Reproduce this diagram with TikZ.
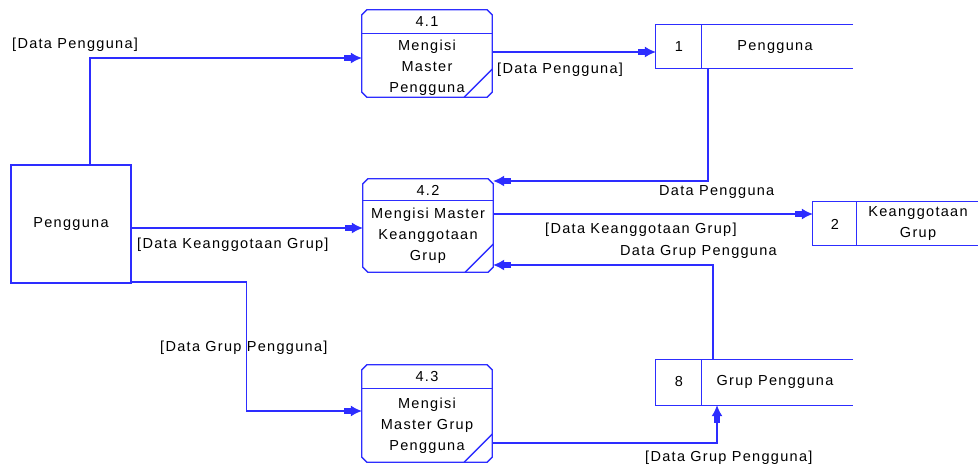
\documentclass[tikz,border=0pt]{standalone}
\usepackage{fontspec}
\setmainfont[LetterSpace=9]{Liberation Sans}
\usetikzlibrary{arrows.meta}
\definecolor{dfdblue}{RGB}{45,45,255}
\begin{document}
\begin{tikzpicture}[x=1pt,y=-1pt,
  every node/.style={font=\fontsize{14.5}{21}\selectfont, inner sep=0pt},
  ln/.style={draw=dfdblue, line width=1.3pt},
  flow/.style={ln, -{Rectangle[length=7pt,width=6pt,line width=0pt] Latex[length=11pt,width=11pt]}},
  lbl/.style={anchor=west}]
\useasboundingbox (0,0) rectangle (978,470);
% external entity
\node[draw=dfdblue, line width=1.3pt, minimum width=120pt, minimum height=118pt] (ent) at (71,224) {Pengguna};
% processes (named placeholders)
\node[minimum width=130pt, minimum height=87pt] (p41) at (427,53.5) {};
\node[minimum width=130pt, minimum height=93pt] (p42) at (428,225.5) {};
\node[minimum width=130pt, minimum height=97pt] (p43) at (427,413.5) {};
\foreach \p/\d in {p41/24,p42/22,p43/24}{
  \draw[ln] ([yshift=-5pt]\p.north west) -- ([xshift=5pt]\p.north west) -- ([xshift=-5pt]\p.north east) -- ([yshift=-5pt]\p.north east) -- ([yshift=5pt]\p.south east) -- ([xshift=-5pt]\p.south east) -- ([xshift=5pt]\p.south west) -- ([yshift=5pt]\p.south west) -- cycle;
  \draw[ln] ([yshift=-\d pt]\p.north west) -- ([yshift=-\d pt]\p.north east);
  \draw[ln] ([xshift=-28pt]\p.south east) -- ([yshift=28pt]\p.south east);
}
\node (p41id) at (427,22) {4.1};
\node[align=center] (p41t) at (427,68) {Mengisi\\Master\\Pengguna};
\node (p42id) at (428,190) {4.2};
\node[align=center] (p42t) at (428,236) {Mengisi Master\\Keanggotaan\\Grup};
\node (p43id) at (427,377) {4.3};
\node[align=center] (p43t) at (427,426) {Mengisi\\Master Grup\\Pengguna};
% data stores
\node[minimum width=197pt, minimum height=43pt] (s1) at (754.5,46.5) {};
\node[minimum width=165pt, minimum height=43pt] (s2) at (895.5,223.5) {};
\node[minimum width=197pt, minimum height=45pt] (s8) at (754.5,382.5) {};
\foreach \s/\d in {s1/46,s2/44,s8/46}{
  \draw[ln] (\s.north east) -- (\s.north west) -- (\s.south west) -- (\s.south east);
  \draw[ln] ([xshift=\d pt]\s.north west) -- ([xshift=\d pt]\s.south west);
}
\node (s1id) at (679,47) {1};
\node (s1t) at (775,47) {Pengguna};
\node (s2id) at (835,224) {2};
\node[align=center] (s2t) at (918,224) {Keanggotaan\\Grup};
\node (s8id) at (679,382) {8};
\node (s8t) at (775,382) {Grup Pengguna};
% flows
\draw[flow] ([xshift=19pt]ent.north) |- ([yshift=-4.5pt]p41.west);
\node[lbl] (l1) at (12,45) {[Data Pengguna]};
\draw[flow] ([yshift=1.5pt]p41.east) -- ([yshift=1.5pt]p41.east -| s1.west);
\node[lbl] (l2) at (497,70) {[Data Pengguna]};
\draw[flow] ([xshift=-46.5pt]s1.south) |- ([yshift=44.5pt]p42.east);
\node[lbl] (l3) at (659,192) {Data Pengguna};
\draw[flow] ([yshift=11.5pt]p42.east) -- ([yshift=11.5pt]p42.east -| s2.west);
\node[lbl] (l4) at (545,230) {[Data Keanggotaan Grup]};
\draw[flow] ([xshift=-41.5pt]s8.north) |- ([yshift=-39.5pt]p42.east);
\node[lbl] (l5) at (620,252) {Data Grup Pengguna};
\draw[flow] ([yshift=-4pt]ent.east) -- ([yshift=-4pt]ent.east -| p42.west);
\node[lbl] (l6) at (137,245) {[Data Keanggotaan Grup]};
\draw[flow] ([yshift=-58pt]ent.east) -- ++(115,0) |- ([yshift=2.5pt]p43.west);
\node[lbl] (l7) at (160,348) {[Data Grup Pengguna]};
\draw[flow] ([yshift=-29.5pt]p43.east) -| ([xshift=-37.5pt]s8.south);
\node[lbl] (l8) at (645,458) {[Data Grup Pengguna]};
\end{tikzpicture}
\end{document}
